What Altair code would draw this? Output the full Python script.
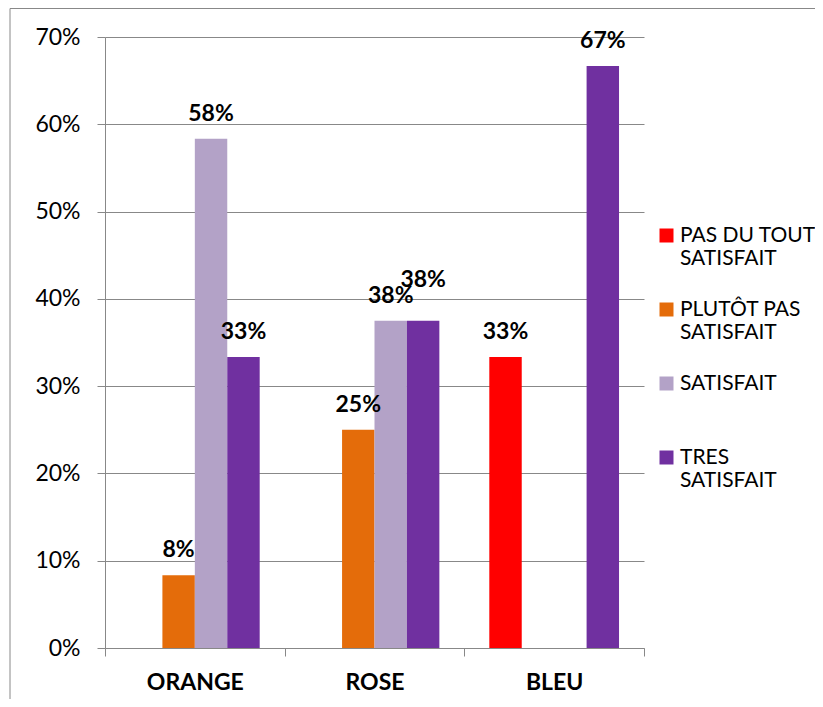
import altair as alt
import pandas as pd

groups = ["ORANGE", "ROSE", "BLEU"]
series = ["PAS DU TOUT SATISFAIT", "PLUTÔT PAS SATISFAIT", "SATISFAIT", "TRES SATISFAIT"]
colors = ["#FF0000", "#E46C0A", "#B3A2C7", "#7030A0"]

pas_du_tout = [0.0, 0.0, 0.3333]
plutot_pas = [0.0833, 0.25, 0.0]
satisfait = [0.5833, 0.375, 0.0]
tres_satisfait = [0.3333, 0.375, 0.6667]

y_ticks = [0.0, 0.1, 0.2, 0.3, 0.4, 0.5, 0.6, 0.7]

rows = []
for s, vals in zip(series, [pas_du_tout, plutot_pas, satisfait, tres_satisfait]):
    for g, v in zip(groups, vals):
        rows.append({"group": g, "series": s, "value": v})
df = pd.DataFrame(rows)

GRAY = "#888888"
FONT = "Lato"

x_enc = alt.X(
    "group:N",
    sort=groups,
    scale=alt.Scale(paddingInner=0, paddingOuter=0),
    axis=alt.Axis(
        title=None,
        labelAngle=0,
        tickBand="extent",
        tickSize=8,
        tickColor=GRAY,
        domainColor=GRAY,
        labelFont=FONT,
        labelFontSize=23,
        labelFontWeight="bold",
        labelColor="#000000",
        labelPadding=15,
        grid=False,
    ),
)
xoff_enc = alt.XOffset(
    "series:N", sort=series, scale=alt.Scale(paddingInner=0, paddingOuter=0.77)
)
y_enc = alt.Y(
    "value:Q",
    scale=alt.Scale(domain=[0, 0.7], nice=False),
    axis=alt.Axis(
        title=None,
        values=y_ticks,
        format=".0%",
        grid=True,
        gridColor=GRAY,
        tickSize=8,
        tickColor=GRAY,
        domainColor=GRAY,
        labelFont=FONT,
        labelFontSize=23,
        labelColor="#000000",
        labelPadding=17,
    ),
)

legend_label = (
    "datum.label == 'SATISFAIT' ? ['SATISFAIT', ''] : "
    "[slice(datum.label, 0, lastindexof(datum.label, ' ')), "
    "slice(datum.label, lastindexof(datum.label, ' ') + 1)]"
)

color_enc = alt.Color(
    "series:N",
    sort=series,
    scale=alt.Scale(domain=series, range=colors),
    legend=alt.Legend(
        title=None,
        orient="none",
        legendX=551,
        legendY=188,
        padding=0,
        symbolType="square",
        symbolSize=196,
        symbolStrokeWidth=0,
        labelFont=FONT,
        labelFontSize=21,
        labelColor="#000000",
        labelLimit=300,
        labelOffset=3,
        labelExpr=legend_label,
        rowPadding=29,
    ),
)

base = alt.Chart(df)

bars = base.mark_bar().encode(x=x_enc, xOffset=xoff_enc, y=y_enc, color=color_enc)

label_style = dict(baseline="alphabetic", font=FONT, fontSize=23, fontWeight="bold", color="#000000")

labels = base.mark_text(dy=-18, **label_style).encode(
    x=alt.X("group:N", sort=groups),
    xOffset=alt.XOffset("series:N", sort=series),
    y="value:Q",
    text=alt.Text("value:Q", format=".0%"),
).transform_filter(
    "datum.value > 0 && !(datum.group == 'ROSE' && datum.series == 'TRES SATISFAIT')"
)

labels_shift = base.mark_text(dy=-34, **label_style).encode(
    x=alt.X("group:N", sort=groups),
    xOffset=alt.XOffset("series:N", sort=series),
    y="value:Q",
    text=alt.Text("value:Q", format=".0%"),
).transform_filter("datum.group == 'ROSE' && datum.series == 'TRES SATISFAIT'")

border = alt.Chart(alt.Data(values=[{}])).mark_rect(
    fill=None, stroke=GRAY, strokeWidth=1
).encode(
    x=alt.value(-95), x2=alt.value(740), y=alt.value(-28.5), y2=alt.value(700)
)

chart = (
    alt.layer(border, bars, labels, labels_shift)
    .properties(
        width=539,
        height=611,
        autosize=alt.AutoSizeParams(type="none"),
        padding={"left": 97, "top": 29, "right": 171, "bottom": 51},
    )
    .configure_view(stroke=None)
    .configure_axis(domainWidth=1, tickWidth=1, gridWidth=1)
)

chart.save("out.html", embed_options={"renderer": "svg", "actions": False})
